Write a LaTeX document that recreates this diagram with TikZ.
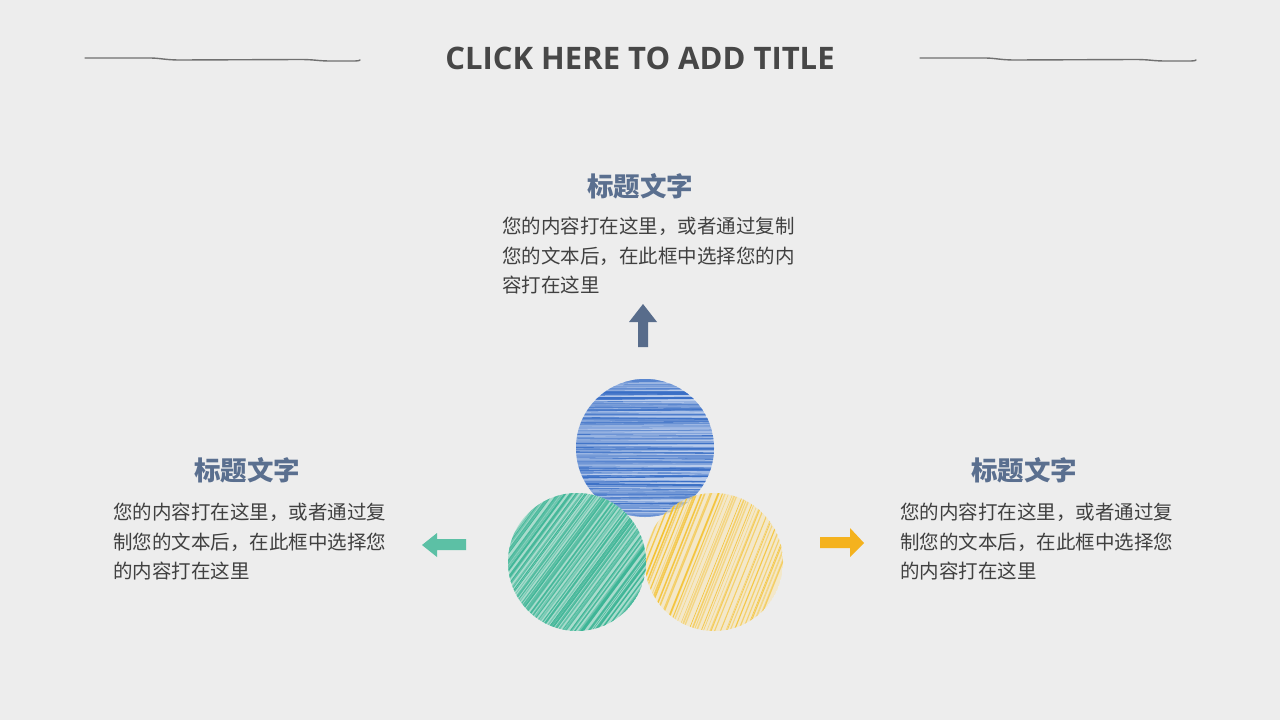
\documentclass[tikz,border=0pt]{standalone}
\usepackage{fontspec}
\setmainfont{Open Sans}
\newfontfamily\cjk{Noto Sans CJK SC}
\definecolor{bg}{HTML}{EDEDED}
\definecolor{titlegray}{HTML}{474747}
\definecolor{rulegray}{HTML}{707070}
\definecolor{headblue}{HTML}{5A6F8F}
\definecolor{bodygray}{HTML}{404040}
\definecolor{cblue}{HTML}{3A6FC6}
\definecolor{cbluepale}{HTML}{B9CCEC}
\definecolor{cgreen}{HTML}{3DB596}
\definecolor{cgreenpale}{HTML}{A9DCCD}
\definecolor{cyellow}{HTML}{F3C232}
\definecolor{cyellowpale}{HTML}{F7E6B4}
\definecolor{arrowup}{HTML}{586C8B}
\definecolor{arrowright}{HTML}{F4B21E}
\definecolor{arrowleft}{HTML}{5CC0A5}
\tikzset{
  rulerline/.style={draw=rulegray, line width=1.4pt, line cap=round, line join=round},
  headtext/.style={font=\cjk\fontsize{26.5}{30}\selectfont\bfseries, text=headblue, inner sep=0pt, anchor=base},
  bodytext/.style={font=\cjk\fontsize{19.5}{29.5}\selectfont, text=bodygray, inner sep=0pt, align=left, anchor=north west},
  ball/.style={circle, minimum size=138pt, inner sep=0pt},
}
\begin{document}
\begin{tikzpicture}[x=1pt,y=-1pt]
\fill[bg] (0,0) rectangle (1280,720);
\useasboundingbox (0,0) rectangle (1280,720);
\pgfmathsetseed{7}

% title and rules
\node[font=\fontsize{31}{36}\selectfont\bfseries, text=titlegray, inner sep=0pt] (title) at (640,58) {CLICK HERE TO ADD TITLE};
\draw[rulerline] (85,58) -- (150,58) .. controls (160,58) and (165,60) .. (180,60) -- (300,59.5) .. controls (315,59.5) and (318,61) .. (330,61) -- (355,61) .. controls (358,61) and (360,60.5) .. (360,60);
\draw[rulerline] (920,58) -- (985,58) .. controls (995,58) and (1000,60) .. (1015,60) -- (1135,59.5) .. controls (1150,59.5) and (1153,61) .. (1165,61) -- (1191,61) .. controls (1194,61) and (1196,60.5) .. (1196,60);

% circles
\node[ball] (blueball) at (645,448) {};
\node[ball] (yellowball) at (714,562) {};
\node[ball] (greenball) at (577,562) {};

\begin{scope}
  \clip (blueball.center) circle[radius=69pt];
  \fill[cbluepale] (blueball.center) circle[radius=69pt];
  \foreach \i in {0,...,100} {
    \pgfmathsetmacro\op{0.35+0.65*rnd}
    \pgfmathsetmacro\lw{0.5+1.5*rnd}
    \pgfmathsetmacro\dy{2*rand}
    \draw[cblue, opacity=\op, line width=\lw pt] (570,{378+1.45*\i}) -- (720,{378+1.45*\i+\dy});
  }
\end{scope}

\begin{scope}
  \clip (yellowball.center) circle[radius=69pt];
  \fill[cyellowpale, opacity=0.6] (yellowball.center) circle[radius=69pt];
  \foreach \i in {0,...,70} {
    \pgfmathsetmacro\op{0.4+0.6*rnd}
    \pgfmathsetmacro\lw{0.5+1.2*rnd}
    \pgfmathsetmacro\s{600+3.2*\i+2*rand}
    \draw[cyellow, opacity=\op, line width=\lw pt] ({\s},640) -- ({\s+62},485);
  }
\end{scope}

\begin{scope}
  \clip (greenball.center) circle[radius=69pt];
  \fill[cgreenpale] (greenball.center) circle[radius=69pt];
  \foreach \i in {0,...,150} {
    \pgfmathsetmacro\op{0.4+0.6*rnd}
    \pgfmathsetmacro\lw{0.6+1.6*rnd}
    \pgfmathsetmacro\s{410+2.2*\i+2*rand}
    \draw[cgreen, opacity=\op, line width=\lw pt] ({\s},640) -- ({\s+115},485);
  }
\end{scope}

% arrows
\fill[arrowup] (643,304) -- (657,322) -- (648,322) -- (648,347) -- (638,347) -- (638,322) -- (629,322) -- cycle;
\fill[arrowright] (864,543) -- (850,528) -- (850,537) -- (820,537) -- (820,548) -- (850,548) -- (850,557) -- cycle;
\fill[arrowleft] (422,545) -- (437,533) -- (437,539) -- (466,539) -- (466,550) -- (437,550) -- (437,557) -- cycle;

% texts
\node[headtext] (tophead) at (640,196) {标题文字};
\node[bodytext] (topbody) at (502,217) {您的内容打在这里，或者通过复制\\您的文本后，在此框中选择您的内\\容打在这里};

\node[headtext] (lefthead) at (247,480) {标题文字};
\node[bodytext] (leftbody) at (113,503) {您的内容打在这里，或者通过复\\制您的文本后，在此框中选择您\\的内容打在这里};

\node[headtext] (righthead) at (1024,480) {标题文字};
\node[bodytext] (rightbody) at (900,503) {您的内容打在这里，或者通过复\\制您的文本后，在此框中选择您\\的内容打在这里};
\end{tikzpicture}
\end{document}
